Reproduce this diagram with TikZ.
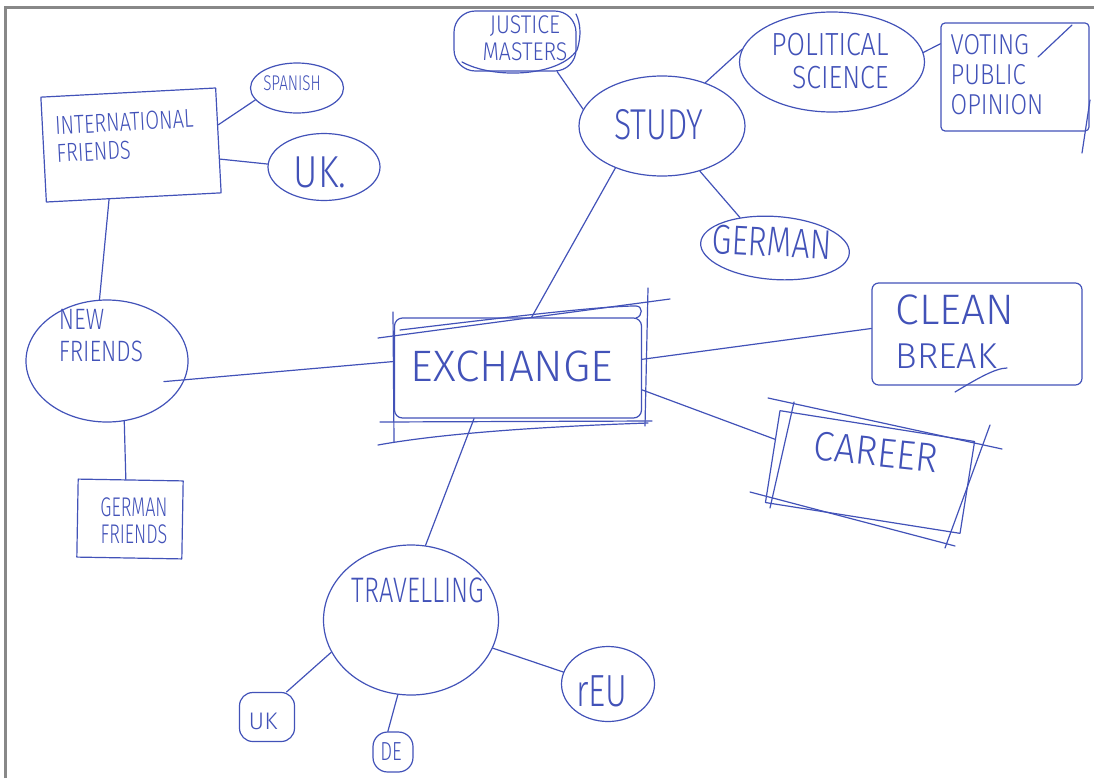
\documentclass[tikz,border=0pt]{standalone}
\usepackage{fontspec}
\usepackage{graphicx}
\usetikzlibrary{shapes.geometric,calc}
\IfFontExistsTF{Fira Sans Light}{\newfontfamily\handfont{Fira Sans Light}}{\newfontfamily\handfont{Fira Sans}}
\definecolor{penblue}{RGB}{66,82,184}
\definecolor{framegray}{RGB}{136,136,136}
% upright text stretched vertically, like tall hand lettering
\newcommand\handstr[2][1.35]{\scalebox{1}[#1]{#2}}
\begin{document}
\begin{tikzpicture}[x=0.75pt,y=-0.75pt,
  pen/.style={draw=penblue, line width=0.9pt, line cap=round, line join=round},
  blob/.style={pen, ellipse, inner sep=0pt},
  boxn/.style={pen, rectangle, inner sep=0pt},
  txt/.style={text=penblue, inner sep=0pt},
  sz/.style 2 args={minimum width={(#1)*0.75pt}, minimum height={(#2)*0.75pt}},
  fsz/.style 2 args={font={\handfont\fontsize{#1}{#2}\selectfont}},
  link/.style={pen}]
\useasboundingbox (0,0) rectangle (1094,778);
\draw[framegray, line width=2.25pt] (5.5,778) -- (5.5,7.5) -- (1094,7.5);

% ---- shapes ----
\node[boxn, sz={175}{105}, rotate=3] (intl) at (131,145) {};
\node[blob, sz={93}{50}] (spanish) at (297,88) {};
\node[blob, sz={112}{67}] (ukbig) at (324,167) {};
\node[blob, sz={162}{122}] (newfr) at (107,361) {};
\node[boxn, sz={105}{78}, rotate=-1] (germfr) at (130,519) {};
\node[boxn, sz={247}{100}, rounded corners=6pt] (exch) at (518,368) {};
\node[blob, sz={166}{100}] (study) at (662,126) {};
\node[boxn, sz={122}{60}, rounded corners=16pt] (justice) at (515,41) {};
\node[blob, sz={185}{100}] (ps) at (832,62) {};
\node[boxn, sz={148}{108}, rounded corners=3pt] (voting) at (1015,77) {};
\node[blob, sz={149}{63}, rotate=-4] (german) at (775,248) {};
\node[boxn, sz={210}{102}, rounded corners=5pt] (clean) at (977,334) {};
\node[boxn, sz={197}{93}, rotate=-9] (career) at (870,472) {};
\node[blob, sz={175}{150}] (trav) at (411,620) {};
\node[boxn, sz={55}{49}, rounded corners=10pt] (uks) at (267,717) {};
\node[boxn, sz={40}{40}, rounded corners=11pt] (de) at (393,752) {};
\node[blob, sz={93}{75}] (reu) at (608,684) {};

% ---- sketch strokes ----
\draw[pen] (378,338) -- (670,299);
\draw[pen] (400,330) .. controls (500,318) and (600,306) .. (636,306) .. controls (643,306) and (643,316) .. (636,318);
\draw[pen] (393,312) -- (394,442);
\draw[pen] (648,288) -- (645,426);
\draw[pen] (380,422) -- (652,421);
\draw[pen] (378,445) .. controls (450,432) and (560,426) .. (648,423);
\draw[pen] (462,62) .. controls (495,80) and (560,76) .. (577,50) .. controls (582,35) and (580,22) .. (576,14);
\draw[pen] (768,398) -- (1002,449);
\draw[pen] (750,492) -- (955,546);
\draw[pen] (794,402) -- (770,508);
\draw[pen] (990,425) -- (945,548);
\draw[pen] (955,392) .. controls (975,380) and (995,368) .. (1007,368);
\draw[pen] (1038,57) -- (1072,25);
\draw[pen] (1090,100) -- (1082,153);

% ---- texts ----
\node[txt, fsz={15}{21}, align=left, rotate=3] (intlt) at (125,136) {\handstr[1.3]{INTERNATIONAL}\\\handstr[1.3]{FRIENDS}};
\node[txt, fsz={11.4}{14}] (spant) at (292,83) {\handstr[1.4]{SPANISH}};
\node[txt, fsz={28}{32}] (ukt) at (320,172) {\handstr[1.2]{UK.}};
\node[txt, fsz={17}{24}, align=left] (newft) at (101,336) {\handstr[1.3]{NEW}\\\handstr[1.3]{FRIENDS}};
\node[txt, fsz={13.5}{20}, align=center] (gft) at (134,521) {\handstr[1.5]{GERMAN}\\\handstr[1.5]{FRIENDS}};
\node[txt, fsz={33}{38}] (excht) at (512,366) {EXCHANGE};
\node[txt, fsz={24}{28}] (studyt) at (659,125) {\handstr{STUDY}};
\node[txt, fsz={16}{20}, align=center] (justt) at (525,38) {\handstr[1.2]{JUSTICE}\\\handstr[1.2]{MASTERS}};
\node[txt, fsz={20}{25}, align=right] (pst) at (830,61) {\handstr[1.2]{POLITICAL}\\\handstr[1.2]{SCIENCE}};
\node[txt, fsz={18}{22.5}, align=left] (votet) at (997,75) {\handstr[1.2]{VOTING}\\\handstr[1.2]{PUBLIC}\\\handstr[1.2]{OPINION}};
\node[txt, fsz={24}{28}, rotate=-3] (germant) at (772,242) {\handstr[1.3]{GERMAN}};
\node[txt, fsz={27}{33}, align=left] (cleant) at (955,332) {{\fontsize{32}{33}\selectfont CLEAN}\\BREAK};
\node[txt, fsz={28}{32}, rotate=-6] (careert) at (876,452) {\handstr[1.1]{CAREER}};
\node[txt, fsz={19}{23}] (travt) at (418,590) {\handstr[1.4]{TRAVELLING}};
\node[txt, fsz={18}{22}] (ukst) at (263,721) {UK};
\node[txt, fsz={14}{17}] (det) at (391,752) {\handstr[1.4]{DE}};
\node[txt, fsz={25}{30}] (reut) at (602,691) {\handstr[1.35]{rEU}};

% ---- connectors ----
\draw[link] (intl.10) -- (spanish.196);
\draw[link] (intl.-12) -- (ukbig.177);
\draw[link] (intl.-115) -- (newfr.97);
\draw[link] (newfr.-74) -- (germfr.97);
\draw[link] ([xshift=-15pt]newfr.-15) -- (exch.177);
\draw[link] (exch.75) -- (study.-138);
\draw[link] (study.168) -- (justice.-36);
\draw[link] (study.45) -- (ps.172);
\draw[link] (study.-50) -- (german.143);
\draw[link] (ps.6) -- (voting.156);
\draw[link] (exch.4) -- (clean.177);
\draw[link] (exch.-10) -- (career.170);
\draw[link] (exch.-131) -- (trav.79);
\draw[link] (trav.-158) -- (uks.52);
\draw[link] (trav.-100) -- (de.104);
\draw[link] (trav.-19) -- (reu.165);
\end{tikzpicture}
\end{document}
